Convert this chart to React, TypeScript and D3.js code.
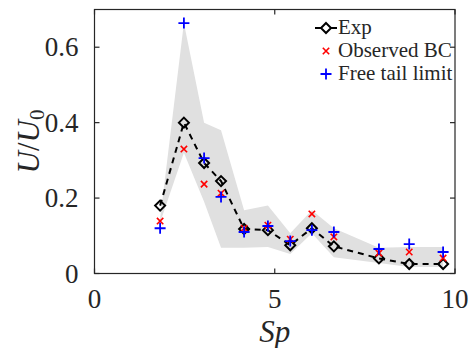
import React from 'react';
import * as d3 from 'd3';

// Sp values of the 12 cases
const sp = [1.82, 2.48, 3.04, 3.51, 4.15, 4.81, 5.43, 6.03, 6.64, 7.89, 8.73, 9.67];
// measured U/U0
const expVals = [0.18, 0.4, 0.293, 0.245, 0.118, 0.115, 0.075, 0.12, 0.072, 0.04, 0.025, 0.025];
const observedBC = [0.139, 0.33, 0.237, 0.213, 0.12, 0.128, 0.091, 0.158, 0.097, 0.054, 0.057, 0.041];
const freeTail = [0.12, 0.664, 0.306, 0.203, 0.11, 0.126, 0.086, 0.115, 0.11, 0.065, 0.078, 0.057];
// shaded range
const bandUpper = [0.145, 0.664, 0.4, 0.38, 0.168, 0.18, 0.107, 0.168, 0.12, 0.068, 0.07, 0.07];
const bandLower = [0.135, 0.32, 0.19, 0.068, 0.068, 0.07, 0.052, 0.107, 0.043, 0.028, 0.017, 0.017];

const xTicks = [0, 5, 10];
const yTicks = [0, 0.2, 0.4, 0.6];
const legendItems = ['Exp', 'Observed BC', 'Free tail limit'];

const W = 472;
const H = 348;
const margin = { top: 9.5, right: 17, bottom: 74.5, left: 94.5 };
const axisColor = '#262626';

const diamond = (r: number) => `M0,${-r}L${r},0L0,${r}L${-r},0Z`;
const cross = (r: number) => `M${-r},${-r}L${r},${r}M${-r},${r}L${r},${-r}`;
const plus = (r: number) => `M${-r},0L${r},0M0,${-r}L0,${r}`;

export default function App() {
  const x = d3.scaleLinear().domain([0, 10]).range([margin.left, W - margin.right]);
  const y = d3.scaleLinear().domain([0, 0.7]).range([H - margin.bottom, margin.top]);

  const idx = d3.range(sp.length);

  const band = d3.area<number>()
    .x(i => x(sp[i]))
    .y0(i => y(bandLower[i]))
    .y1(i => y(bandUpper[i]));

  const line = d3.line<number>()
    .x(i => x(sp[i]))
    .y(i => y(expVals[i]));

  const x0 = x(0), x1 = x(10), y0 = y(0), y1 = y(0.7);
  const tickLen = 5;

  const legX = 326;
  const legY = [28, 51, 74];

  return (
    <div style={{ position: 'absolute', left: 0, top: 0, width: W, height: H, fontFamily: 'Liberation Serif', background: '#fff' }}>
      <svg width={W} height={H}>
        <path d={band(idx) || ''} fill="#e0e0e0" stroke="none" />
        <path d={line(idx) || ''} fill="none" stroke="#000" strokeWidth={2} strokeDasharray="6,5" />
        {idx.map(i => (
          <path key={'e' + i} d={diamond(5)} transform={`translate(${x(sp[i])},${y(expVals[i])})`}
            fill="none" stroke="#000" strokeWidth={2} />
        ))}
        {idx.map(i => (
          <path key={'o' + i} d={cross(3.2)} transform={`translate(${x(sp[i])},${y(observedBC[i])})`}
            fill="none" stroke="#ff0000" strokeWidth={1.6} />
        ))}
        {idx.map(i => (
          <path key={'f' + i} d={plus(5.5)} transform={`translate(${x(sp[i])},${y(freeTail[i])})`}
            fill="none" stroke="#0000ff" strokeWidth={1.8} />
        ))}

        {/* axes box and inward ticks */}
        <rect x={x0} y={y1} width={x1 - x0} height={y0 - y1} fill="none" stroke={axisColor} strokeWidth={1.2} />
        {xTicks.map(t => (
          <g key={'xt' + t}>
            <line x1={x(t)} x2={x(t)} y1={y0} y2={y0 - tickLen} stroke={axisColor} strokeWidth={1.2} />
            <line x1={x(t)} x2={x(t)} y1={y1} y2={y1 + tickLen} stroke={axisColor} strokeWidth={1.2} />
            <text x={x(t)} y={y0 + 34} textAnchor="middle" fontSize={27} fill={axisColor}>{String(t)}</text>
          </g>
        ))}
        {yTicks.map(t => (
          <g key={'yt' + t}>
            <line x1={x0} x2={x0 + tickLen} y1={y(t)} y2={y(t)} stroke={axisColor} strokeWidth={1.2} />
            <line x1={x1} x2={x1 - tickLen} y1={y(t)} y2={y(t)} stroke={axisColor} strokeWidth={1.2} />
            <text x={x0 - 16} y={y(t) + 9} textAnchor="end" fontSize={27} fill={axisColor}>{t === 0 ? '0' : t.toFixed(1)}</text>
          </g>
        ))}

        <text x={(x0 + x1) / 2} y={342} textAnchor="middle" fontStyle="italic" fontSize={31} fill={axisColor}>Sp</text>
        <text transform={`translate(39,${(y0 + y1) / 2}) rotate(-90)`} textAnchor="middle" fontSize={31} fill={axisColor}>
          <tspan fontStyle="italic">U</tspan>
          <tspan>/</tspan>
          <tspan fontStyle="italic">U</tspan>
          <tspan fontSize={21} dy={5}>0</tspan>
        </text>

        {/* legend */}
        <g>
          <line x1={legX - 11} x2={legX + 11} y1={legY[0]} y2={legY[0]} stroke="#000" strokeWidth={2} />
          <path d={diamond(5)} transform={`translate(${legX},${legY[0]})`} fill="#fff" stroke="#000" strokeWidth={2} />
          <path d={cross(3.2)} transform={`translate(${legX},${legY[1]})`} fill="none" stroke="#ff0000" strokeWidth={1.6} />
          <path d={plus(5.5)} transform={`translate(${legX},${legY[2]})`} fill="none" stroke="#0000ff" strokeWidth={1.8} />
          {legendItems.map((s, i) => (
            <text key={s} x={legX + 12} y={legY[i] + 6} fontSize={21} fill={axisColor}>{s}</text>
          ))}
        </g>
      </svg>
    </div>
  );
}
